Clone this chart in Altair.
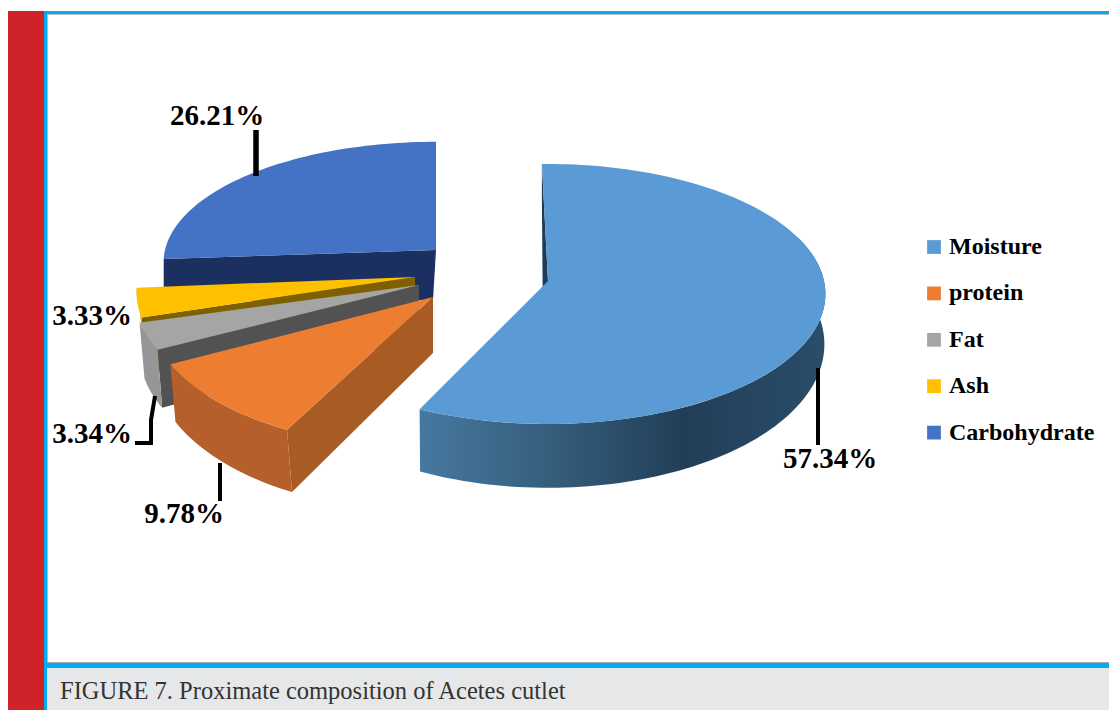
import math
import altair as alt

LABELS = ["Moisture", "protein", "Fat", "Ash", "Carbohydrate"]
VALUES = [57.34, 9.78, 3.34, 3.33, 26.21]
VALUE_TEXT = ["57.34%", "9.78%", "3.34%", "3.33%", "26.21%"]
TOP_COLORS = ["#5b9bd5", "#ed7d31", "#a5a5a5", "#ffc000", "#4472c4"]
WALL_COLORS = ["#1f3b57", "#a85b22", "#525252", "#7f6000", "#1b3060"]
SIDE_COLORS = ["#2f5674", "#b5602a", "#969696", "#d9a400", None]
CAPTION = "FIGURE 7. Proximate composition of Acetes cutlet"

W, H = 1101, 702  # what fits the window inside the page margin without rescaling
OFF = 8           # page margin
PERSP = 0.1       # perspective foreshortening of the pie
STEP = 1.5        # degrees between rim points
RIGHT = OFF + W
BOTTOM = OFF + H

# per-slice placement of the exploded 3D pie, in page pixels
GEOM = {
    "Moisture": dict(rot=-1.4, apex=(548, 281), c=(548, 281), R=276, Q=128.7,
                     bapex=(543, 330), bc=(548, 330), bR=275, bQ=142, side_from=70),
    "protein": dict(rot=0, apex=(433, 297), c=(418, 297), R=268, Q=135,
                    bapex=(433, 353), bc=(423, 349.5), bR=268, bQ=145),
    "Fat": dict(rot=0, apex=(419, 285), c=(419, 285), R=283, Q=130,
                bapex=(419, 338), bc=(419, 338), bR=278, bQ=140),
    "Ash": dict(rot=0, apex=(415, 277), c=(415, 277), R=277, Q=140,
                bapex=(415, 333), bc=(415, 333), bR=270, bQ=140),
    "Carbohydrate": dict(rot=0, apex=(436, 250), c=(436, 250), R=271, Q=119,
                         bapex=(433, 300), bc=(436, 292), bR=271, bQ=119),
}
DRAW_ORDER = ["Carbohydrate", "Ash", "Fat", "protein", "Moisture"]

# label table: page centre x, baseline y
LABEL_POS = {"57.34%": (830, 468), "9.78%": (184, 523), "3.34%": (92, 443),
             "3.33%": (92, 325), "26.21%": (217, 125)}
LEADERS = [
    ([(256, 130), (256, 176)], 5.5),
    ([(135, 443), (151, 443), (151, 420), (155, 396)], 4),
    ([(220, 463), (220, 501)], 4),
    ([(818, 368), (818, 445)], 4),
]


def pt(x, y):
    return [x - OFF, y - OFF]


def rim(theta, c, R, Q):
    t = math.radians(theta)
    s = 1 / (1 + PERSP * math.cos(t))
    return pt(c[0] + R * math.sin(t) * s, c[1] - Q * math.cos(t) * s)


def arc(a, b, c, R, Q):
    n = max(2, int(abs(b - a) / STEP) + 1)
    return [rim(a + (b - a) * i / n, c, R, Q) for i in range(n + 1)]


def poly(points, **props):
    ring = points + [points[0]]
    return {"type": "Feature", "properties": props,
            "geometry": {"type": "Polygon", "coordinates": [ring]}}


def shape(points, fill):
    return alt.Chart(alt.Data(values=[poly(points)])).mark_geoshape(
        fill=fill, strokeWidth=0).project(type="identity")


def rect(x0, y0, x1, y1, fill):
    return shape([pt(x0, y0), pt(x1, y0), pt(x1, y1), pt(x0, y1)], fill)


layers = [
    # fits the identity projection to the plot area, one unit per pixel
    shape([[0, 0], [W, 0], [W, H], [0, H]], "#ffffff"),
    rect(8, 11, 44, BOTTOM, "#cf2229"),
    rect(44, 11, RIGHT, 14, "#00aeef"),
    rect(44, 11, 47, BOTTOM, "#00aeef"),
    rect(47, 14, RIGHT, 15, "#b9bdc0"),
    rect(47, 14, 48, 662, "#b9bdc0"),
    rect(47, 662, RIGHT, 663, "#a7a9ac"),
    rect(47, 663, RIGHT, 668, "#00aeef"),
    rect(47, 668, RIGHT, BOTTOM, "#e6e7e8"),
]

legend = alt.Legend(
    orient="none", legendX=914, legendY=227, title=None, padding=0,
    symbolType="square", symbolSize=190, symbolStrokeWidth=0, symbolOpacity=1,
    labelFont="Liberation Serif", labelFontWeight="bold", labelFontSize=24,
    labelColor="#000000", labelOffset=3, labelLimit=0, rowPadding=22.4,
)

total = sum(VALUES)
starts, acc = {}, 0.0
for name, v in zip(LABELS, VALUES):
    starts[name] = (acc / total * 360, (acc + v) / total * 360)
    acc += v

for name in DRAW_ORDER:
    g = GEOM[name]
    i = LABELS.index(name)
    a, b = starts[name]
    a += g["rot"]
    b += g["rot"]
    # cut face at the start angle
    layers.append(shape([pt(*g["apex"]), rim(a, g["c"], g["R"], g["Q"]),
                         rim(a, g["bc"], g["bR"], g["bQ"]), pt(*g["bapex"])],
                        WALL_COLORS[i]))
    # outer rim
    if SIDE_COLORS[i]:
        a0 = g.get("side_from", a)
        side = arc(a0, b, g["c"], g["R"], g["Q"]) + arc(b, a0, g["bc"], g["bR"], g["bQ"])
        fill = SIDE_COLORS[i]
        if name == "Moisture":
            fill = {"gradient": "linear", "x1": 0, "x2": 1, "y1": 0, "y2": 0,
                    "stops": [{"offset": 0, "color": "#47789f"},
                              {"offset": 0.3, "color": "#36607f"},
                              {"offset": 0.65, "color": "#223e57"},
                              {"offset": 1, "color": "#2a4d6a"}]}
        layers.append(shape(side, fill))
    # top face
    top = [pt(*g["apex"])] + arc(a, b, g["c"], g["R"], g["Q"])
    layers.append(
        alt.Chart(alt.Data(values=[poly(top, name=name)])).mark_geoshape(strokeWidth=0).encode(
            color=alt.Color("properties.name:N",
                            scale=alt.Scale(domain=LABELS, range=TOP_COLORS),
                            legend=legend)
        ).project(type="identity")
    )

for path, width in LEADERS:
    feat = {"type": "Feature", "properties": {},
            "geometry": {"type": "LineString", "coordinates": [pt(*p) for p in path]}}
    layers.append(alt.Chart(alt.Data(values=[feat])).mark_geoshape(
        filled=False, stroke="#000000", strokeWidth=width).project(type="identity"))

xs = alt.X("x:Q", scale=alt.Scale(domain=[0, W], zero=False, nice=False), axis=None)
ys = alt.Y("y:Q", scale=alt.Scale(domain=[H, 0], zero=False, nice=False), axis=None)

label_rows = [{"t": t, "x": LABEL_POS[t][0] - OFF, "y": LABEL_POS[t][1] - OFF} for t in VALUE_TEXT]
layers.append(alt.Chart(alt.Data(values=label_rows)).mark_text(
    font="Liberation Serif", fontWeight="bold", fontSize=29, color="#000000",
    align="center", baseline="alphabetic").encode(x=xs, y=ys, text="t:N"))

layers.append(alt.Chart(alt.Data(values=[{"t": CAPTION, "x": 60 - OFF, "y": 699 - OFF}])).mark_text(
    font="Liberation Serif", fontSize=24.5, color="#333333",
    align="left", baseline="alphabetic").encode(x=xs, y=ys, text="t:N"))

chart = alt.layer(*layers).properties(
    width=W, height=H, padding=0, autosize=alt.AutoSizeParams(type="none"),
    background="#ffffff",
).configure_view(stroke=None)

chart.save("out.html", embed_options={"renderer": "svg", "actions": False})
